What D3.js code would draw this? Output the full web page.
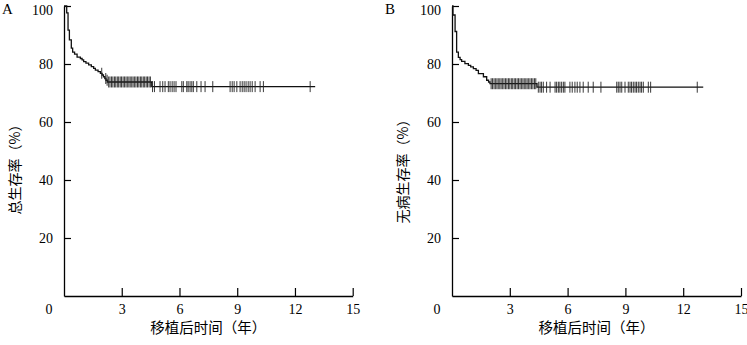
<!DOCTYPE html>
<html>
<head>
<meta charset="utf-8">
<script src="https://cdn.jsdelivr.net/npm/d3@7"></script>
<style>
  body { margin: 0; background: #fff; }
  svg { display: block; }
</style>
</head>
<body>
<svg id="chart" width="747" height="345"></svg>
<script>
// ---- data ----
const xTicks = [3, 6, 9, 12, 15];
const yTicks = [20, 40, 60, 80, 100];

// panel A: 总生存率 — event times (years) and survival (%) after each step
const osTimes  = [0.14, 0.21, 0.28, 0.38, 0.45, 0.55, 0.68, 0.85, 0.94, 1.02, 1.14, 1.28, 1.42, 1.54, 1.63, 1.77, 1.89, 1.98, 2.05, 2.12, 2.18, 2.25, 4.56];
const osValues = [97.6, 91.7, 88.3, 85.5, 84.1, 83.4, 82.4, 81.9, 81.4, 80.8, 80.3, 79.7, 79.1, 78.5, 77.9, 77.4, 76.8, 76.2, 75.6, 75.0, 74.4, 73.8, 72.2];
const osCensored = [1.96, 2.17, 2.24, 2.32, 2.39, 2.47, 2.54, 2.62, 2.69, 2.77, 2.84, 2.92, 2.99, 3.07, 3.14, 3.22, 3.29,
  3.37, 3.44, 3.52, 3.59, 3.67, 3.74, 3.82, 3.89, 3.97, 4.04, 4.12, 4.19, 4.27, 4.34, 4.42, 4.49,
  4.6, 4.7, 4.99, 5.13, 5.25, 5.42, 5.51, 5.62, 5.72, 5.82,
  6.12, 6.2, 6.38, 6.45, 6.55, 6.64, 6.72, 6.9, 7.12, 7.33, 7.73, 8.63, 8.74, 8.84, 8.98, 9.15, 9.26, 9.36, 9.46, 9.57,
  9.67, 9.78, 9.93, 10.19, 10.36, 12.79];
const osEnd = 13.05;

// panel B: 无病生存率
const dfsTimes  = [0.05, 0.16, 0.24, 0.33, 0.42, 0.5, 0.67, 0.85, 0.97, 1.11, 1.25, 1.37, 1.63, 1.8, 1.9, 1.97, 4.41];
const dfsValues = [96.9, 91.2, 84.1, 82.3, 81.5, 80.9, 80.1, 79.5, 79.0, 78.4, 77.8, 76.7, 75.6, 74.4, 73.8, 73.2, 72.0];
const dfsCensored = [2.03, 2.1, 2.18, 2.25, 2.33, 2.4, 2.48, 2.55, 2.63, 2.7, 2.78, 2.85, 2.93, 3.0, 3.08, 3.15, 3.23,
  3.3, 3.38, 3.45, 3.53, 3.6, 3.68, 3.75, 3.83, 3.9, 3.98, 4.05, 4.13, 4.2, 4.28, 4.35,
  4.48, 4.57, 4.65, 4.74, 4.91, 5.09, 5.35, 5.43, 5.52,
  5.6, 5.69, 5.78, 5.86, 6.12, 6.24, 6.38, 6.5, 6.64, 6.81, 7.07, 7.33, 7.73, 8.55, 8.63, 8.72, 8.81, 8.98, 9.15, 9.24,
  9.32, 9.41, 9.5, 9.58, 9.67, 9.76, 9.84, 9.93, 10.19, 10.31, 12.73];
const dfsEnd = 13.04;

const serif = "'Liberation Serif', 'Times New Roman', serif";
const cjk = "'Noto Sans CJK SC', 'Noto Sans', sans-serif";

const svg = d3.select("#chart");

function drawPanel(cfg) {
    const x = d3.scaleLinear().domain([0, 15]).range([cfg.x0, cfg.x1]);
    const y = d3.scaleLinear().domain([0, 100]).range([296, 6]);
    const g = svg.append("g");

    // step function points
    const pts = [{ t: 0, v: 100 }];
    cfg.times.forEach((t, i) => pts.push({ t: t, v: cfg.values[i] }));
    pts.push({ t: cfg.end, v: cfg.values[cfg.values.length - 1] });

    const survAt = t => {
        let v = 100;
        cfg.times.forEach((tt, i) => { if (tt <= t) v = cfg.values[i]; });
        return v;
    };

    // axes
    const yAxis = g.append("g")
        .attr("transform", `translate(${cfg.x0},0)`)
        .call(d3.axisLeft(y).tickValues(yTicks).tickSizeInner(-7).tickSizeOuter(0).tickPadding(11));
    const xAxis = g.append("g")
        .attr("transform", `translate(0,296)`)
        .call(d3.axisBottom(x).tickValues(xTicks).tickSizeInner(-8).tickSizeOuter(0).tickPadding(8));

    [yAxis, xAxis].forEach(ax => {
        ax.select(".domain").attr("stroke", "#000").attr("stroke-width", 1.3);
        ax.selectAll(".tick line").attr("stroke", "#000").attr("stroke-width", 1.2);
        ax.selectAll(".tick text").attr("fill", "#000")
            .style("font-family", serif).style("font-size", "14px");
    });
    // top label sits a little low so it is not clipped
    yAxis.selectAll(".tick text").filter(d => d === 100).attr("dy", "0.62em");

    // corner zero
    g.append("text")
        .attr("x", cfg.x0 - 15).attr("y", 314)
        .attr("text-anchor", "middle")
        .style("font-family", serif).style("font-size", "14px")
        .text("0");

    // survival curve
    const line = d3.line()
        .x(d => x(d.t)).y(d => y(d.v))
        .curve(d3.curveStepAfter);
    g.append("path")
        .datum(pts)
        .attr("fill", "none")
        .attr("stroke", "#111")
        .attr("stroke-width", 1.3)
        .attr("d", line);

    // censoring ticks
    g.selectAll(".cens")
        .data(cfg.censored)
        .enter().append("line")
        .attr("class", "cens")
        .attr("x1", d => x(d)).attr("x2", d => x(d))
        .attr("y1", d => y(survAt(d)) - 5.5)
        .attr("y2", d => y(survAt(d)) + 5.5)
        .attr("stroke", "#222")
        .attr("stroke-width", 0.9);

    // panel letter
    g.append("text")
        .attr("x", cfg.letterX).attr("y", 14)
        .style("font-family", serif).style("font-size", "15px")
        .text(cfg.letter);

    // y label
    g.append("text")
        .attr("transform", `translate(${cfg.x0 - 50},${cfg.yLabelY}) rotate(-90)`)
        .attr("text-anchor", "middle")
        .attr("dominant-baseline", "central")
        .style("font-family", cjk).style("font-size", "14px")
        .text(cfg.yLabel);

    // x label
    g.append("text")
        .attr("x", (cfg.x0 + cfg.x1) / 2).attr("y", 333)
        .attr("text-anchor", "middle")
        .style("font-family", cjk).style("font-size", "14.5px")
        .text("移植后时间（年）");
}

drawPanel({ x0: 64, x1: 352.7, times: osTimes, values: osValues, censored: osCensored, end: osEnd,
    letter: "A", letterX: 2, yLabel: "总生存率（%）", yLabelY: 166 });
drawPanel({ x0: 452, x1: 741, times: dfsTimes, values: dfsValues, censored: dfsCensored, end: dfsEnd,
    letter: "B", letterX: 385, yLabel: "无病生存率（%）", yLabelY: 168 });
</script>
</body>
</html>
